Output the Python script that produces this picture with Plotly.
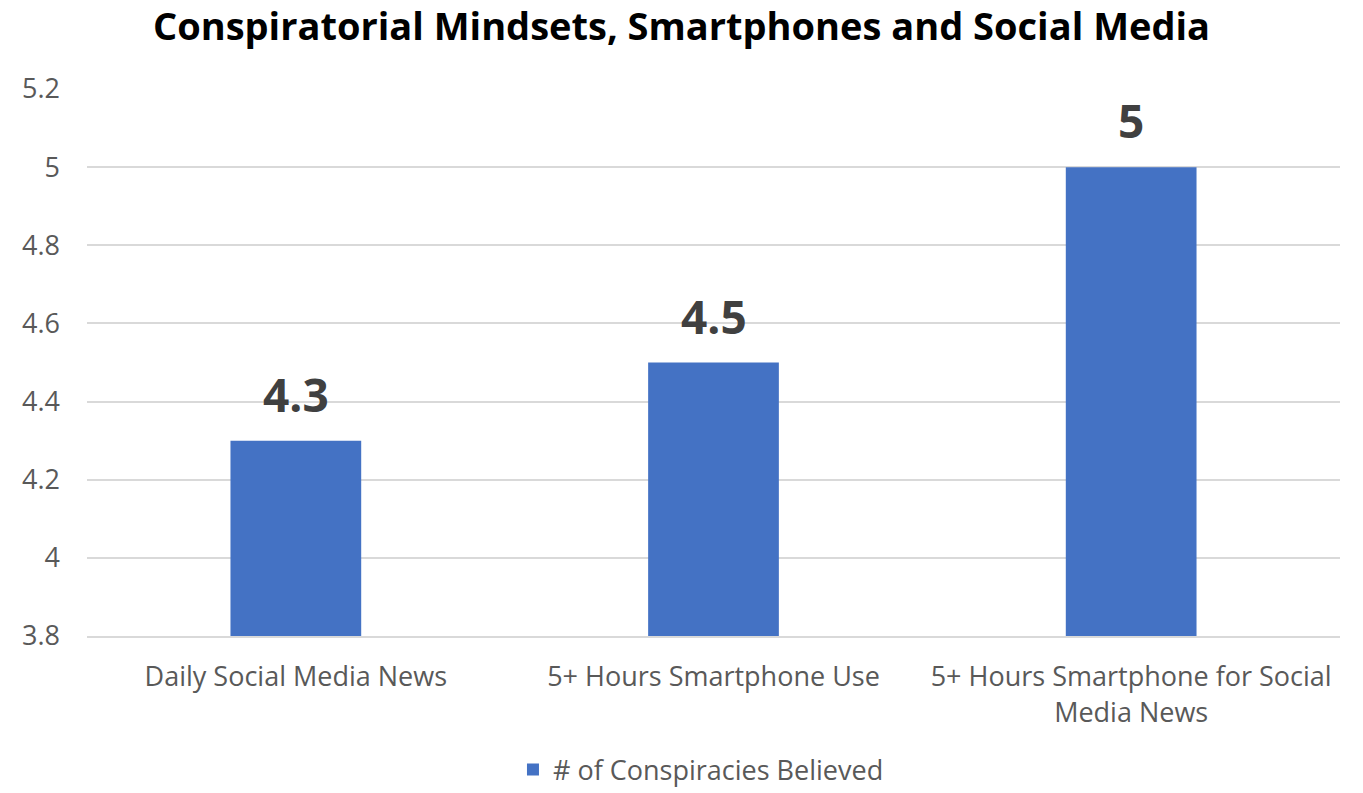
import plotly.graph_objects as go

categories = ["Daily Social Media News", "5+ Hours Smartphone Use", "5+ Hours Smartphone for Social<br>Media News"]
values = [4.3, 4.5, 5]
labels = ["4.3", "4.5", "5"]
series_name = "# of Conspiracies Believed"
title = "Conspiratorial Mindsets, Smartphones and Social Media"
y_ticks = [3.8, 4, 4.2, 4.4, 4.6, 4.8, 5, 5.2]
y_tick_text = ["3.8", "4", "4.2", "4.4", "4.6", "4.8", "5", "5.2"]

FONT = "Open Sans"

fig = go.Figure()
fig.add_trace(go.Bar(
    x=categories, y=values, name=series_name,
    marker=dict(color="#4472C4", line=dict(width=0)),
))
for c, v, t in zip(categories, values, labels):
    fig.add_annotation(x=c, y=v, text="<b>" + t + "</b>", showarrow=False,
                       yanchor="bottom", yshift=14,
                       font=dict(family=FONT, size=46, color="#404040"))

fig.update_layout(
    width=1363, height=793,
    margin=dict(l=87, r=23, t=89, b=157, autoexpand=False),
    paper_bgcolor="white", plot_bgcolor="white",
    title=dict(text="<b>" + title + "</b>", x=0.5, xanchor="center", y=0.966, yanchor="middle",
               font=dict(family=FONT, size=38, color="black")),
    bargap=0.687,
    showlegend=True,
    legend=dict(orientation="h", x=0.49, xanchor="center", y=-0.245, yanchor="middle",
                font=dict(family=FONT, size=27, color="#595959"), itemwidth=30),
    font=dict(family=FONT, color="#595959"),
)
fig.update_yaxes(range=[3.8, 5.2], tickvals=y_ticks, ticktext=y_tick_text,
                 showgrid=True, gridcolor="#D9D9D9", gridwidth=2, zeroline=False,
                 showline=False, ticks="", ticklabelstandoff=26,
                 tickfont=dict(family=FONT, size=27, color="#595959"))
fig.update_xaxes(showline=True, linecolor="#D9D9D9", linewidth=2, ticks="",
                 ticklabelstandoff=16,
                 tickfont=dict(family=FONT, size=27, color="#595959"))

fig.write_html("out.html")
